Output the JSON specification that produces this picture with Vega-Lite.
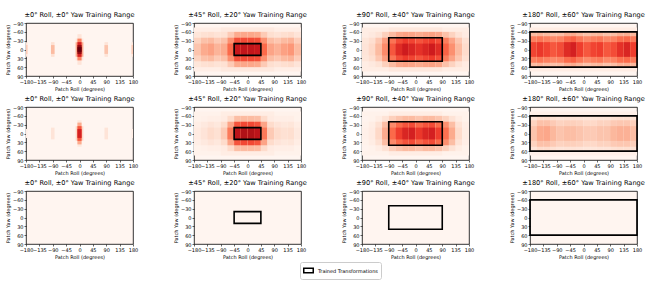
{
"$schema":"https://vega.github.io/schema/vega-lite/v6.json",
"padding":{"left":5,"top":12,"right":2,"bottom":2},
"background":"white",
"data":{"values":[
{"k":0,"i":17,"h":37,"v":0.08},{"k":0,"i":17,"h":25,"v":0.3},{"k":0,"i":16,"h":52,"v":0.1},{"k":0,"i":16,"h":37,"v":0.42},{"k":0,"i":16,"h":25,"v":0.72},{"k":0,"i":16,"h":15,"v":0.92},{"k":0,"i":16,"h":8,"v":1},{"k":0,"i":18,"h":25,"v":0.12},{"k":0,"i":18,"h":15,"v":0.25},{"k":0,"i":19,"h":25,"v":0.1},{"k":0,"i":19,"h":15,"v":0.22},{"k":0,"i":20,"h":25,"v":0.1},{"k":0,"i":20,"h":15,"v":0.2},{"k":0,"i":21,"h":25,"v":0.1},{"k":0,"i":21,"h":15,"v":0.2},
{"k":4,"i":17,"h":25,"v":0.15},{"k":4,"i":16,"h":45,"v":0.08},{"k":4,"i":16,"h":37,"v":0.3},{"k":4,"i":16,"h":25,"v":0.55},{"k":4,"i":16,"h":15,"v":0.72},{"k":4,"i":18,"h":20,"v":0.1},{"k":4,"i":19,"h":20,"v":0.1},{"k":4,"i":20,"h":15,"v":0.05},{"k":4,"i":21,"h":15,"v":0.05},
{"k":1,"i":22,"h":75,"v":0.04},{"k":1,"i":23,"h":75,"v":0.07},
{"k":1,"i":0,"h":60,"v":0.09},{"k":1,"i":0,"h":40,"v":0.17},{"k":1,"i":0,"h":20,"v":0.22},
{"k":1,"i":1,"h":60,"v":0.12},{"k":1,"i":1,"h":40,"v":0.23},{"k":1,"i":1,"h":20,"v":0.3},
{"k":1,"i":2,"h":60,"v":0.13},{"k":1,"i":2,"h":40,"v":0.25},{"k":1,"i":2,"h":20,"v":0.33},
{"k":1,"i":3,"h":60,"v":0.11},{"k":1,"i":3,"h":40,"v":0.2},{"k":1,"i":3,"h":20,"v":0.27},
{"k":1,"i":4,"h":60,"v":0.12},{"k":1,"i":4,"h":40,"v":0.23},{"k":1,"i":4,"h":20,"v":0.3},
{"k":1,"i":5,"h":60,"v":0.2},{"k":1,"i":5,"h":40,"v":0.38},{"k":1,"i":5,"h":20,"v":0.5},
{"k":1,"i":6,"h":60,"v":0.3},{"k":1,"i":6,"h":40,"v":0.57},{"k":1,"i":6,"h":20,"v":0.76},
{"k":1,"i":7,"h":60,"v":0.31},{"k":1,"i":7,"h":40,"v":0.58},{"k":1,"i":7,"h":20,"v":0.78},
{"k":1,"i":8,"h":60,"v":0.31},{"k":1,"i":8,"h":40,"v":0.58},{"k":1,"i":8,"h":20,"v":0.78},
{"k":1,"i":9,"h":60,"v":0.3},{"k":1,"i":9,"h":40,"v":0.57},{"k":1,"i":9,"h":20,"v":0.76},
{"k":1,"i":10,"h":60,"v":0.2},{"k":1,"i":10,"h":40,"v":0.38},{"k":1,"i":10,"h":20,"v":0.5},
{"k":1,"i":11,"h":60,"v":0.13},{"k":1,"i":11,"h":40,"v":0.24},{"k":1,"i":11,"h":20,"v":0.32},
{"k":1,"i":12,"h":60,"v":0.11},{"k":1,"i":12,"h":40,"v":0.21},{"k":1,"i":12,"h":20,"v":0.28},
{"k":1,"i":13,"h":60,"v":0.13},{"k":1,"i":13,"h":40,"v":0.25},{"k":1,"i":13,"h":20,"v":0.33},
{"k":1,"i":14,"h":60,"v":0.14},{"k":1,"i":14,"h":40,"v":0.27},{"k":1,"i":14,"h":20,"v":0.36},
{"k":1,"i":15,"h":60,"v":0.1},{"k":1,"i":15,"h":40,"v":0.19},{"k":1,"i":15,"h":20,"v":0.25},
{"k":5,"i":22,"h":75,"v":0.02},{"k":5,"i":23,"h":75,"v":0.05},
{"k":5,"i":0,"h":60,"v":0.02},{"k":5,"i":0,"h":40,"v":0.04},{"k":5,"i":0,"h":20,"v":0.06},
{"k":5,"i":1,"h":60,"v":0.03},{"k":5,"i":1,"h":40,"v":0.07},{"k":5,"i":1,"h":20,"v":0.1},
{"k":5,"i":2,"h":60,"v":0.04},{"k":5,"i":2,"h":40,"v":0.1},{"k":5,"i":2,"h":20,"v":0.14},
{"k":5,"i":3,"h":60,"v":0.04},{"k":5,"i":3,"h":40,"v":0.08},{"k":5,"i":3,"h":20,"v":0.12},
{"k":5,"i":4,"h":60,"v":0.06},{"k":5,"i":4,"h":40,"v":0.14},{"k":5,"i":4,"h":20,"v":0.2},
{"k":5,"i":5,"h":60,"v":0.14},{"k":5,"i":5,"h":40,"v":0.32},{"k":5,"i":5,"h":20,"v":0.45},
{"k":5,"i":6,"h":60,"v":0.24},{"k":5,"i":6,"h":40,"v":0.56},{"k":5,"i":6,"h":20,"v":0.8},
{"k":5,"i":7,"h":60,"v":0.25},{"k":5,"i":7,"h":40,"v":0.59},{"k":5,"i":7,"h":20,"v":0.84},
{"k":5,"i":8,"h":60,"v":0.25},{"k":5,"i":8,"h":40,"v":0.59},{"k":5,"i":8,"h":20,"v":0.84},
{"k":5,"i":9,"h":60,"v":0.24},{"k":5,"i":9,"h":40,"v":0.56},{"k":5,"i":9,"h":20,"v":0.8},
{"k":5,"i":10,"h":60,"v":0.14},{"k":5,"i":10,"h":40,"v":0.32},{"k":5,"i":10,"h":20,"v":0.45},
{"k":5,"i":11,"h":60,"v":0.06},{"k":5,"i":11,"h":40,"v":0.14},{"k":5,"i":11,"h":20,"v":0.2},
{"k":5,"i":12,"h":60,"v":0.04},{"k":5,"i":12,"h":40,"v":0.1},{"k":5,"i":12,"h":20,"v":0.14},
{"k":5,"i":13,"h":60,"v":0.04},{"k":5,"i":13,"h":40,"v":0.08},{"k":5,"i":13,"h":20,"v":0.12},
{"k":5,"i":14,"h":60,"v":0.04},{"k":5,"i":14,"h":40,"v":0.09},{"k":5,"i":14,"h":20,"v":0.13},
{"k":5,"i":15,"h":60,"v":0.02},{"k":5,"i":15,"h":40,"v":0.05},{"k":5,"i":15,"h":20,"v":0.07},
{"k":2,"i":22,"h":75,"v":0.05},{"k":2,"i":23,"h":75,"v":0.08},
{"k":2,"i":0,"h":60,"v":0.05},{"k":2,"i":0,"h":40,"v":0.09},{"k":2,"i":0,"h":20,"v":0.1},
{"k":2,"i":1,"h":60,"v":0.07},{"k":2,"i":1,"h":40,"v":0.13},{"k":2,"i":1,"h":20,"v":0.15},
{"k":2,"i":2,"h":60,"v":0.11},{"k":2,"i":2,"h":40,"v":0.21},{"k":2,"i":2,"h":20,"v":0.25},
{"k":2,"i":3,"h":60,"v":0.18},{"k":2,"i":3,"h":40,"v":0.34},{"k":2,"i":3,"h":20,"v":0.4},
{"k":2,"i":4,"h":60,"v":0.25},{"k":2,"i":4,"h":40,"v":0.47},{"k":2,"i":4,"h":20,"v":0.55},
{"k":2,"i":5,"h":60,"v":0.31},{"k":2,"i":5,"h":40,"v":0.58},{"k":2,"i":5,"h":20,"v":0.68},
{"k":2,"i":6,"h":60,"v":0.33},{"k":2,"i":6,"h":40,"v":0.63},{"k":2,"i":6,"h":20,"v":0.74},
{"k":2,"i":7,"h":60,"v":0.32},{"k":2,"i":7,"h":40,"v":0.6},{"k":2,"i":7,"h":20,"v":0.7},
{"k":2,"i":8,"h":60,"v":0.3},{"k":2,"i":8,"h":40,"v":0.56},{"k":2,"i":8,"h":20,"v":0.66},
{"k":2,"i":9,"h":60,"v":0.32},{"k":2,"i":9,"h":40,"v":0.6},{"k":2,"i":9,"h":20,"v":0.7},
{"k":2,"i":10,"h":60,"v":0.33},{"k":2,"i":10,"h":40,"v":0.63},{"k":2,"i":10,"h":20,"v":0.74},
{"k":2,"i":11,"h":60,"v":0.31},{"k":2,"i":11,"h":40,"v":0.58},{"k":2,"i":11,"h":20,"v":0.68},
{"k":2,"i":12,"h":60,"v":0.23},{"k":2,"i":12,"h":40,"v":0.44},{"k":2,"i":12,"h":20,"v":0.52},
{"k":2,"i":13,"h":60,"v":0.17},{"k":2,"i":13,"h":40,"v":0.32},{"k":2,"i":13,"h":20,"v":0.38},
{"k":2,"i":14,"h":60,"v":0.11},{"k":2,"i":14,"h":40,"v":0.21},{"k":2,"i":14,"h":20,"v":0.25},
{"k":2,"i":15,"h":60,"v":0.06},{"k":2,"i":15,"h":40,"v":0.12},{"k":2,"i":15,"h":20,"v":0.14},
{"k":6,"i":22,"h":75,"v":0.02},{"k":6,"i":23,"h":75,"v":0.05},
{"k":6,"i":0,"h":60,"v":0.01},{"k":6,"i":0,"h":40,"v":0.02},{"k":6,"i":0,"h":20,"v":0.03},
{"k":6,"i":1,"h":60,"v":0.02},{"k":6,"i":1,"h":40,"v":0.05},{"k":6,"i":1,"h":20,"v":0.06},
{"k":6,"i":2,"h":60,"v":0.05},{"k":6,"i":2,"h":40,"v":0.12},{"k":6,"i":2,"h":20,"v":0.15},
{"k":6,"i":3,"h":60,"v":0.11},{"k":6,"i":3,"h":40,"v":0.24},{"k":6,"i":3,"h":20,"v":0.3},
{"k":6,"i":4,"h":60,"v":0.18},{"k":6,"i":4,"h":40,"v":0.4},{"k":6,"i":4,"h":20,"v":0.5},
{"k":6,"i":5,"h":60,"v":0.22},{"k":6,"i":5,"h":40,"v":0.5},{"k":6,"i":5,"h":20,"v":0.62},
{"k":6,"i":6,"h":60,"v":0.25},{"k":6,"i":6,"h":40,"v":0.56},{"k":6,"i":6,"h":20,"v":0.7},
{"k":6,"i":7,"h":60,"v":0.25},{"k":6,"i":7,"h":40,"v":0.58},{"k":6,"i":7,"h":20,"v":0.72},
{"k":6,"i":8,"h":60,"v":0.22},{"k":6,"i":8,"h":40,"v":0.51},{"k":6,"i":8,"h":20,"v":0.64},
{"k":6,"i":9,"h":60,"v":0.25},{"k":6,"i":9,"h":40,"v":0.56},{"k":6,"i":9,"h":20,"v":0.7},
{"k":6,"i":10,"h":60,"v":0.25},{"k":6,"i":10,"h":40,"v":0.58},{"k":6,"i":10,"h":20,"v":0.72},
{"k":6,"i":11,"h":60,"v":0.22},{"k":6,"i":11,"h":40,"v":0.5},{"k":6,"i":11,"h":20,"v":0.62},
{"k":6,"i":12,"h":60,"v":0.17},{"k":6,"i":12,"h":40,"v":0.38},{"k":6,"i":12,"h":20,"v":0.48},
{"k":6,"i":13,"h":60,"v":0.11},{"k":6,"i":13,"h":40,"v":0.24},{"k":6,"i":13,"h":20,"v":0.3},
{"k":6,"i":14,"h":60,"v":0.05},{"k":6,"i":14,"h":40,"v":0.11},{"k":6,"i":14,"h":20,"v":0.14},
{"k":6,"i":15,"h":60,"v":0.02},{"k":6,"i":15,"h":40,"v":0.04},{"k":6,"i":15,"h":20,"v":0.05},
{"k":3,"i":22,"h":75,"v":0.05},
{"k":3,"i":0,"h":60,"v":0.25},{"k":3,"i":0,"h":45,"v":0.43},{"k":3,"i":0,"h":25,"v":0.6},
{"k":3,"i":1,"h":60,"v":0.27},{"k":3,"i":1,"h":45,"v":0.46},{"k":3,"i":1,"h":25,"v":0.64},
{"k":3,"i":2,"h":60,"v":0.25},{"k":3,"i":2,"h":45,"v":0.43},{"k":3,"i":2,"h":25,"v":0.6},
{"k":3,"i":3,"h":60,"v":0.23},{"k":3,"i":3,"h":45,"v":0.4},{"k":3,"i":3,"h":25,"v":0.55},
{"k":3,"i":4,"h":60,"v":0.24},{"k":3,"i":4,"h":45,"v":0.42},{"k":3,"i":4,"h":25,"v":0.58},
{"k":3,"i":5,"h":60,"v":0.29},{"k":3,"i":5,"h":45,"v":0.49},{"k":3,"i":5,"h":25,"v":0.68},
{"k":3,"i":6,"h":60,"v":0.3},{"k":3,"i":6,"h":45,"v":0.52},{"k":3,"i":6,"h":25,"v":0.72},
{"k":3,"i":7,"h":60,"v":0.26},{"k":3,"i":7,"h":45,"v":0.45},{"k":3,"i":7,"h":25,"v":0.62},
{"k":3,"i":8,"h":60,"v":0.23},{"k":3,"i":8,"h":45,"v":0.4},{"k":3,"i":8,"h":25,"v":0.55},
{"k":3,"i":9,"h":60,"v":0.25},{"k":3,"i":9,"h":45,"v":0.43},{"k":3,"i":9,"h":25,"v":0.6},
{"k":3,"i":10,"h":60,"v":0.26},{"k":3,"i":10,"h":45,"v":0.45},{"k":3,"i":10,"h":25,"v":0.62},
{"k":3,"i":11,"h":60,"v":0.23},{"k":3,"i":11,"h":45,"v":0.4},{"k":3,"i":11,"h":25,"v":0.55},
{"k":3,"i":12,"h":60,"v":0.24},{"k":3,"i":12,"h":45,"v":0.42},{"k":3,"i":12,"h":25,"v":0.58},
{"k":3,"i":13,"h":60,"v":0.28},{"k":3,"i":13,"h":45,"v":0.48},{"k":3,"i":13,"h":25,"v":0.66},
{"k":3,"i":14,"h":60,"v":0.29},{"k":3,"i":14,"h":45,"v":0.5},{"k":3,"i":14,"h":25,"v":0.7},
{"k":3,"i":15,"h":60,"v":0.26},{"k":3,"i":15,"h":45,"v":0.45},{"k":3,"i":15,"h":25,"v":0.62},
{"k":7,"i":22,"h":75,"v":0.03},
{"k":7,"i":0,"h":60,"v":0.1},{"k":7,"i":0,"h":45,"v":0.17},{"k":7,"i":0,"h":25,"v":0.22},
{"k":7,"i":1,"h":60,"v":0.14},{"k":7,"i":1,"h":45,"v":0.23},{"k":7,"i":1,"h":25,"v":0.3},
{"k":7,"i":2,"h":60,"v":0.14},{"k":7,"i":2,"h":45,"v":0.23},{"k":7,"i":2,"h":25,"v":0.31},
{"k":7,"i":3,"h":60,"v":0.12},{"k":7,"i":3,"h":45,"v":0.2},{"k":7,"i":3,"h":25,"v":0.26},
{"k":7,"i":4,"h":60,"v":0.1},{"k":7,"i":4,"h":45,"v":0.17},{"k":7,"i":4,"h":25,"v":0.22},
{"k":7,"i":5,"h":60,"v":0.11},{"k":7,"i":5,"h":45,"v":0.18},{"k":7,"i":5,"h":25,"v":0.24},
{"k":7,"i":6,"h":60,"v":0.11},{"k":7,"i":6,"h":45,"v":0.18},{"k":7,"i":6,"h":25,"v":0.24},
{"k":7,"i":7,"h":60,"v":0.1},{"k":7,"i":7,"h":45,"v":0.17},{"k":7,"i":7,"h":25,"v":0.22},
{"k":7,"i":8,"h":60,"v":0.09},{"k":7,"i":8,"h":45,"v":0.15},{"k":7,"i":8,"h":25,"v":0.2},
{"k":7,"i":9,"h":60,"v":0.09},{"k":7,"i":9,"h":45,"v":0.15},{"k":7,"i":9,"h":25,"v":0.2},
{"k":7,"i":10,"h":60,"v":0.1},{"k":7,"i":10,"h":45,"v":0.17},{"k":7,"i":10,"h":25,"v":0.22},
{"k":7,"i":11,"h":60,"v":0.1},{"k":7,"i":11,"h":45,"v":0.17},{"k":7,"i":11,"h":25,"v":0.22},
{"k":7,"i":12,"h":60,"v":0.12},{"k":7,"i":12,"h":45,"v":0.2},{"k":7,"i":12,"h":25,"v":0.26},
{"k":7,"i":13,"h":60,"v":0.13},{"k":7,"i":13,"h":45,"v":0.21},{"k":7,"i":13,"h":25,"v":0.28},
{"k":7,"i":14,"h":60,"v":0.13},{"k":7,"i":14,"h":45,"v":0.21},{"k":7,"i":14,"h":25,"v":0.28},
{"k":7,"i":15,"h":60,"v":0.11},{"k":7,"i":15,"h":45,"v":0.18},{"k":7,"i":15,"h":25,"v":0.24},
{"k":1,"bx":-45,"bx2":45,"by":-20,"by2":20},{"k":5,"bx":-45,"bx2":45,"by":-20,"by2":20},{"k":9,"bx":-45,"bx2":45,"by":-20,"by2":20},
{"k":2,"bx":-90,"bx2":90,"by":-40,"by2":40},{"k":6,"bx":-90,"bx2":90,"by":-40,"by2":40},{"k":10,"bx":-90,"bx2":90,"by":-40,"by2":40},
{"k":3,"bx":-180,"bx2":180,"by":-60,"by2":60},{"k":7,"bx":-180,"bx2":180,"by":-60,"by2":60},{"k":11,"bx":-180,"bx2":180,"by":-60,"by2":60},
{"k":8}
]},
"transform":[
{"lookup":"i","from":{"data":{"values":[{"i":0,"x":-180,"x2":-157.5},{"i":1,"x":-157.5,"x2":-135},{"i":2,"x":-135,"x2":-112.5},{"i":3,"x":-112.5,"x2":-90},{"i":4,"x":-90,"x2":-67.5},{"i":5,"x":-67.5,"x2":-45},{"i":6,"x":-45,"x2":-22.5},{"i":7,"x":-22.5,"x2":0},{"i":8,"x":0,"x2":22.5},{"i":9,"x":22.5,"x2":45},{"i":10,"x":45,"x2":67.5},{"i":11,"x":67.5,"x2":90},{"i":12,"x":90,"x2":112.5},{"i":13,"x":112.5,"x2":135},{"i":14,"x":135,"x2":157.5},{"i":15,"x":157.5,"x2":180},{"i":16,"x":-7,"x2":7},{"i":17,"x":-13,"x2":13},{"i":18,"x":-96,"x2":-84},{"i":19,"x":84,"x2":96},{"i":20,"x":-180,"x2":-175},{"i":21,"x":175,"x2":180},{"i":22,"x":-180,"x2":180},{"i":23,"x":-90,"x2":90}]},"key":"i","fields":["x","x2"]}},
{"lookup":"h","from":{"data":{"values":[{"h":75,"y":-75,"y2":75},{"h":60,"y":-60,"y2":60},{"h":52,"y":-52,"y2":52},{"h":45,"y":-45,"y2":45},{"h":40,"y":-40,"y2":40},{"h":37,"y":-37,"y2":37},{"h":25,"y":-25,"y2":25},{"h":20,"y":-20,"y2":20},{"h":15,"y":-15,"y2":15},{"h":8,"y":-8,"y2":8}]},"key":"h","fields":["y","y2"]}}
],
"facet":{"field":"k","type":"ordinal","sort":"ascending","header":{"title":null,"labelExpr":"['±0° Roll, ±0° Yaw Training Range','±45° Roll, ±20° Yaw Training Range','±90° Roll, ±40° Yaw Training Range','±180° Roll, ±60° Yaw Training Range'][datum.value % 4]","labelFont":"DejaVu Sans","labelFontSize":6.6,"labelColor":"black","labelPadding":2,"labelLimit":0}},
"columns":4,
"spacing":{"row":4,"column":31},
"resolve":{"axis":{"x":"independent","y":"independent"}},
"spec":{
"width":107,"height":53,
"layer":[
{"transform":[{"filter":"isValid(datum.v)"}],
"mark":{"type":"rect","strokeWidth":0,"clip":true},
"encoding":{
"x":{"field":"x","type":"quantitative","scale":{"domain":[-180,180],"nice":false,"zero":false},"axis":{"values":[-180,-135,-90,-45,0,45,90,135,180],"title":"Patch Roll (degrees)"}},
"x2":{"field":"x2"},
"y":{"field":"y","type":"quantitative","scale":{"domain":[-90,90],"nice":false,"zero":false,"reverse":true},"axis":{"values":[-90,-60,-30,0,30,60,90],"title":"Patch Yaw (degrees)"}},
"y2":{"field":"y2"},
"color":{"field":"v","type":"quantitative","scale":{"type":"linear","domain":[0,0.125,0.25,0.375,0.5,0.625,0.75,0.875,1],"range":["#fff5f0","#fee0d2","#fcbba1","#fc9272","#fb6a4a","#ef3b2c","#cb181d","#a50f15","#67000d"],"interpolate":"rgb"},"legend":null}
}},
{"transform":[{"filter":"isValid(datum.bx)"}],
"mark":{"type":"rect","filled":false,"strokeWidth":1.6},
"encoding":{
"x":{"field":"bx","type":"quantitative","axis":{"values":[-180,-135,-90,-45,0,45,90,135,180],"title":"Patch Roll (degrees)"}},
"x2":{"field":"bx2"},
"y":{"field":"by","type":"quantitative","axis":{"values":[-90,-60,-30,0,30,60,90],"title":"Patch Yaw (degrees)"}},
"y2":{"field":"by2"},
"stroke":{"datum":"Trained Transformations","type":"nominal","scale":{"range":["black"]},"legend":{"title":null,"orient":"none","legendX":274,"legendY":239,"symbolType":"M-1,-0.5H1V0.5H-1Z","symbolSize":90,"symbolStrokeWidth":1.5,"symbolFillColor":"white","labelFontSize":5,"labelFont":"DejaVu Sans","labelColor":"black","strokeColor":"#cccccc","padding":3,"cornerRadius":2,"fillColor":"white"}}
}}
]},
"config":{
"font":"DejaVu Sans",
"view":{"fill":"#fff5f0","stroke":"black","strokeWidth":0.8},
"axis":{"labelFont":"DejaVu Sans","titleFont":"DejaVu Sans","labelFontSize":5,"titleFontSize":5,"titleFontWeight":"normal","labelColor":"black","titleColor":"black","tickColor":"black","tickSize":2,"tickWidth":0.6,"domain":false,"grid":false,"labelPadding":1,"titlePadding":2,"labelOverlap":false,"labelFlush":false}
}
}
